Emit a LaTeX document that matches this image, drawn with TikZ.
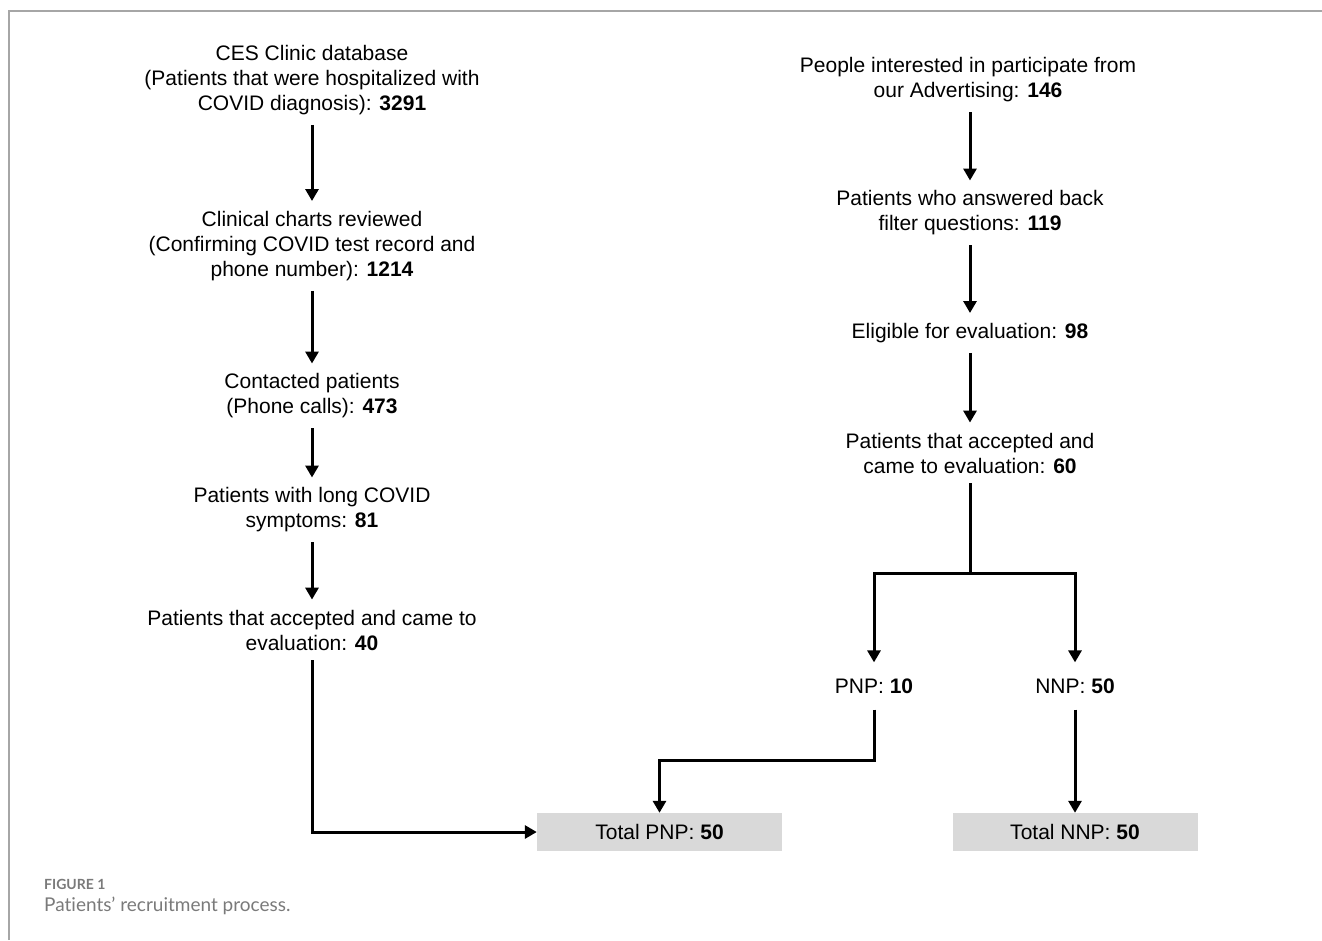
\documentclass[tikz,border=0pt]{standalone}
\usepackage{fontspec}
\setmainfont{Liberation Sans}
\newfontfamily\captionfont[Ligatures=NoCommon]{Lato}
\usepackage{tikz}
\usetikzlibrary{shapes.geometric, arrows, arrows.meta, positioning}
\definecolor{boxgray}{HTML}{D9D9D9}
\definecolor{framegray}{HTML}{A6A6A6}
\definecolor{capgray}{HTML}{7A7A7A}

\begin{document}
\begin{tikzpicture}[x=1pt, y=-1pt, font=\fontsize{21}{25}\selectfont]
		\tikzstyle{stage} = [align=center, inner sep=10pt]
		
		\tikzstyle{group} = [align=center, inner sep=16pt]
		
		\tikzstyle{total} = [rectangle, minimum width=245pt, minimum height=38pt, text centered, fill=boxgray]
		
		\tikzstyle{arrow} = [-{Triangle[width=13pt,length=12pt]}, line width=3pt]
		\tikzstyle{line} = [line width=3pt]
		
		% Page frame
		\useasboundingbox (0,0) rectangle (1322,940);
		\draw [draw=framegray, line width=1.5pt] (9,940) -- (9,11) -- (1322,11);
		
		% Left column: hospital records
		\node (db) [stage] at (312,80) {CES Clinic database\\(Patients that were hospitalized with\\COVID diagnosis): \textbf{3291}};
		\node (charts) [stage] at (312,246) {Clinical charts reviewed\\(Confirming COVID test record and\\phone number): \textbf{1214}};
		\node (contacted) [stage] at (312,396) {Contacted patients\\(Phone calls): \textbf{473}};
		\node (longcovid) [stage] at (312,510) {Patients with long COVID\\symptoms: \textbf{81}};
		\node (acceptedL) [stage] at (312,630) {Patients that accepted and came to\\evaluation: \textbf{40}};
		
		% Right column: advertising
		\node (interested) [stage] at (968,80) {People interested in participate from\\our Advertising: \textbf{146}};
		\node (answered) [stage] at (970,213) {Patients who answered back\\filter questions: \textbf{119}};
		\node (eligible) [stage] at (970,333) {Eligible for evaluation: \textbf{98}};
		\node (acceptedR) [stage] at (970,453) {Patients that accepted and\\came to evaluation: \textbf{60}};
		\coordinate (split) at (970,573);
		\node (pnp) [group] at (874,686) {PNP: \textbf{10}};
		\node (nnp) [group] at (1075,686) {NNP: \textbf{50}};
		
		% Totals
		\node (totpnp) [total] at (659.5,832) {Total PNP: \textbf{50}};
		\node (totnnp) [total] at (1075,832) {Total NNP: \textbf{50}};
		
		% Arrows
		\draw [arrow] (db) -- (charts);
		\draw [arrow] (charts) -- (contacted);
		\draw [arrow] (contacted) -- (longcovid);
		\draw [arrow] (longcovid) -- (acceptedL);
		\draw [arrow] (acceptedL) |- (totpnp);
		\draw [arrow] (interested.south -| answered) -- (answered);
		\draw [arrow] (answered) -- (eligible);
		\draw [arrow] (eligible) -- (acceptedR);
		\draw [line] (acceptedR) -- (split);
		\draw [arrow] (split) -| (pnp);
		\draw [arrow] (split) -| (nnp);
		\draw [arrow] (pnp) -- ++(0,74) -| (totpnp);
		\draw [arrow] (nnp) -- (totnnp);
		
		% Caption
		\node (figlabel) [anchor=west, inner sep=0pt, text=capgray, font=\captionfont\bfseries\fontsize{14}{16}\selectfont] at (44,884) {FIGURE 1};
		\node (figcaption) [anchor=west, inner sep=0pt, text=capgray, font=\captionfont\fontsize{19}{22}\selectfont] at (44,906) {Patients’ recruitment process.};
\end{tikzpicture}
\end{document}
